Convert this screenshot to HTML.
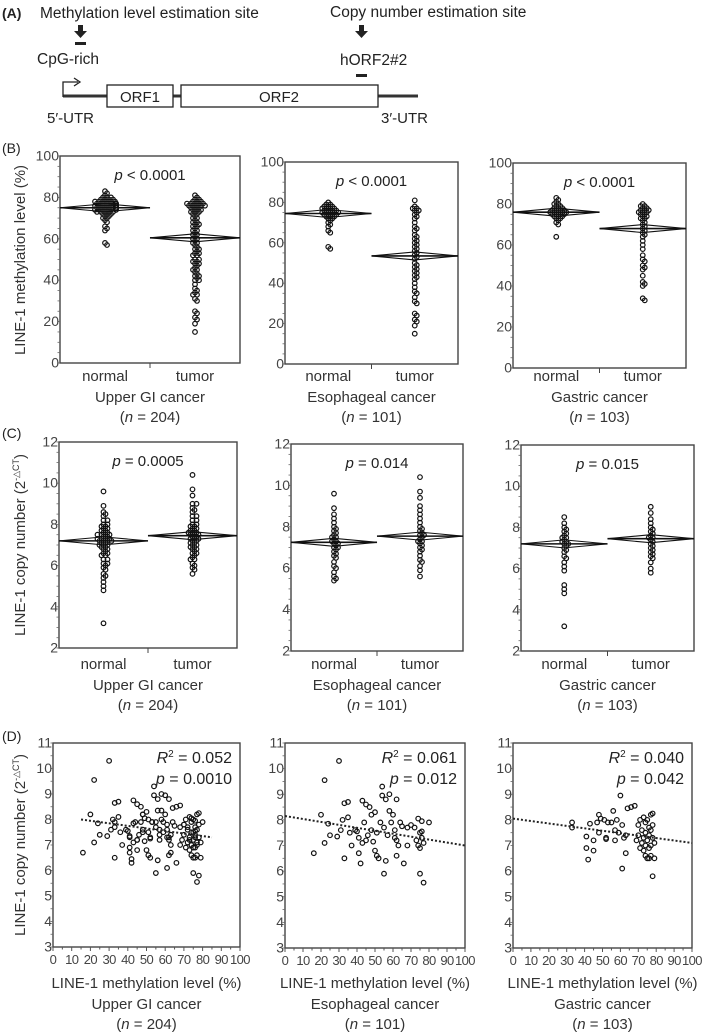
<!DOCTYPE html>
<html><head><meta charset="utf-8">
<style>
html,body{margin:0;padding:0;background:#fff;}
svg{display:block;font-family:"Liberation Sans",sans-serif;}
</style></head>
<body>
<svg id="fig" width="709" height="1036" viewBox="0 0 709 1036" xmlns="http://www.w3.org/2000/svg">
<g fill="#222" font-size="15">
  <text x="2" y="18" font-size="14" font-weight="bold">(A)</text>
  <text x="40" y="18" font-size="15.5">Methylation level estimation site</text>
  <text x="330" y="17" font-size="15.5">Copy number estimation site</text>
  <g><rect x="78" y="25" width="5" height="7"/><polygon points="74,31 87,31 80.5,38"/></g>
  <rect x="75" y="42" width="11" height="3"/>
  <text x="37" y="64" font-size="15.5">CpG-rich</text>
  <g><rect x="359" y="25" width="5" height="7"/><polygon points="355,31 368,31 361.5,38"/></g>
  <text x="340" y="65" font-size="15.5">hORF2#2</text>
  <rect x="356" y="74" width="11" height="3"/>
  <line x1="63" y1="96" x2="418" y2="96" stroke="#333" stroke-width="3"/>
  <path d="M63,97 V82 H78 M74,78 L80,82 L74,86" fill="none" stroke="#222" stroke-width="1.3"/>
  <rect x="107" y="85" width="66" height="22" fill="#fff" stroke="#222" stroke-width="1.3"/>
  <text x="140" y="102" text-anchor="middle">ORF1</text>
  <rect x="181" y="85" width="197" height="22" fill="#fff" stroke="#222" stroke-width="1.3"/>
  <text x="279" y="102" text-anchor="middle">ORF2</text>
  <text x="47" y="123">5′-UTR</text>
  <text x="381" y="123">3′-UTR</text>
</g>
<text x="2" y="153" font-size="14" fill="#222">(B)</text>
<text x="2" y="438" font-size="14" fill="#222">(C)</text>
<text x="2" y="741" font-size="14" fill="#222">(D)</text>
<text transform="translate(25,260) rotate(-90)" text-anchor="middle" font-size="15" fill="#333">LINE-1 methylation level (%)</text>
<text transform="translate(25,545) rotate(-90)" text-anchor="middle" font-size="15" fill="#333">LINE-1 copy number (2<tspan font-size="9" dy="-6">-△CT</tspan><tspan dy="6">)</tspan></text>
<text transform="translate(25,845) rotate(-90)" text-anchor="middle" font-size="15" fill="#333">LINE-1 copy number (2<tspan font-size="9" dy="-6">-△CT</tspan><tspan dy="6">)</tspan></text>
</svg>
<script>
// ---------- DATA ----------
var groupLabels = ["normal", "tumor"];
var cancerNames = ["Upper GI cancer", "Esophageal cancer", "Gastric cancer"];
var sampleSizes = ["204", "101", "103"];
// Panel B: methylation level (%)
var methEsoNormal = [80,79,79,78,78,78,77,77,77,77,76,76,76,76,75,75,75,75,75,74,74,74,74,73,73,73,72,72,71,70,69,68,66,65,58,57];
var methEsoTumor = [81,78,77,77,76,76,75,74,73,72,70,68,67,66,64,63,62,61,60,59,58,57,56,55,54,53,52,50,49,48,47,46,45,44,43,42,40,38,36,35,33,31,30,25,24,22,21,19,15];
var methGasNormal = [83,82,81,80,80,79,79,78,78,78,77,77,77,77,76,76,76,76,76,75,75,75,75,74,74,74,73,73,72,71,70,64];
var methGasTumor = [80,79,79,78,78,77,77,77,76,76,76,75,75,74,74,73,73,72,71,70,69,68,67,66,65,64,62,60,58,55,53,52,50,49,48,45,42,41,40,34,33];
var methMeans = [[75, 60.5], [74.5, 53.5], [76, 68]];
var methPvalues = ["< 0.0001", "< 0.0001", "< 0.0001"];
// Panel C: copy number
var copyEsoNormal = [9.6,8.9,8.6,8.4,8.2,8.0,7.9,7.8,7.7,7.6,7.5,7.5,7.4,7.3,7.3,7.2,7.2,7.1,7.0,7.0,6.9,6.8,6.7,6.6,6.5,6.3,6.1,6.0,5.8,5.6,5.5,5.4];
var copyEsoTumor = [10.4,9.7,9.4,9.0,8.8,8.6,8.4,8.2,8.0,7.9,7.8,7.7,7.6,7.6,7.5,7.4,7.3,7.3,7.2,7.1,7.0,6.9,6.8,6.6,6.4,6.3,6.1,5.9,5.6];
var copyGasNormal = [8.5,8.2,8.0,7.9,7.8,7.7,7.6,7.5,7.5,7.4,7.3,7.3,7.2,7.2,7.1,7.0,6.9,6.8,6.6,6.5,6.3,6.1,5.9,5.2,5.0,4.8,3.2];
var copyGasTumor = [9.0,8.7,8.4,8.2,8.0,7.9,7.8,7.7,7.6,7.5,7.5,7.4,7.3,7.2,7.1,7.0,6.9,6.8,6.7,6.6,6.5,6.3,6.0,5.8];
var copyMeans = [[7.2, 7.45], [7.25, 7.55], [7.2, 7.45]];
var copyPvalues = ["0.0005", "0.014", "0.015"];
// Panel D: methylation (x) vs copy number (y)
var scatEsoX = [16,20,22,22,24,25,30,29,31,32,33,33,35,35,36,37,39,40,41,41,42,43,43,44,45,45,46,47,48,48,49,50,50,51,51,52,53,54,54,55,55,56,56,57,58,58,59,60,61,61,62,62,62,63,64,65,66,68,68,70,72,73,74,74,75,75,75,76,76,76,77,77,80];
var scatEsoY = [6.7,8.2,9.55,7.1,7.85,7.4,10.3,7.35,7.6,8.0,6.5,8.65,8.7,8.1,7.5,7.0,7.6,7.55,7.3,6.7,6.3,8.75,7.1,7.9,7.2,8.6,7.4,8.5,8.2,7.6,7.15,8.3,6.8,6.6,7.5,6.5,7.9,9.3,8.95,7.7,5.9,8.8,6.4,7.4,8.35,9.0,7.9,8.2,7.6,7.3,8.8,7.2,6.6,7.0,7.9,7.75,6.3,7.7,7.0,7.8,7.7,7.2,8.05,7.0,7.5,6.9,5.9,7.3,7.95,7.55,5.55,7.1,7.9];
var scatGasX = [33,33,41,41,42,43,45,45,47,48,48,49,51,52,52,53,55,56,57,57,58,59,60,61,61,62,63,63,64,66,68,69,70,70,71,71,72,72,73,73,73,74,74,74,74,75,75,75,76,76,76,76,77,77,77,77,78,78,78,79,79,78];
var scatGasY = [7.9,7.7,7.35,6.9,6.45,7.85,6.8,7.2,7.9,8.2,7.5,8.05,8.0,7.3,7.25,7.9,7.9,8.35,7.2,7.6,8.0,7.5,8.95,7.8,6.1,7.3,6.7,7.4,8.45,8.5,8.55,7.2,7.8,7.4,6.9,8.0,7.6,7.1,8.1,7.3,6.8,7.9,7.5,7.0,6.6,8.0,7.2,6.5,7.7,7.4,6.9,6.5,8.2,7.6,7.0,6.6,8.25,7.3,5.8,6.5,7.1,7.8];
var trendUgi = [15, 8.0, 85, 7.3];
var trendEso = [0, 8.15, 100, 7.0];
var trendGas = [0, 8.05, 100, 7.1];
var r2Values = ["0.052", "0.061", "0.040"];
var corrPvalues = ["0.0010", "0.012", "0.042"];
var methTicks = [0, 20, 40, 60, 80, 100];
var copyTicks = [2, 4, 6, 8, 10, 12];
var scatYTicks = [3, 4, 5, 6, 7, 8, 9, 10, 11];
var scatXTicks = [0, 10, 20, 30, 40, 50, 60, 70, 80, 90, 100];

// ---------- DRAWING ----------
var NS = "http://www.w3.org/2000/svg";
var svg = document.getElementById("fig");
function mk(tag, attrs, parent) {
  var e = document.createElementNS(NS, tag);
  for (var k in attrs) e.setAttribute(k, attrs[k]);
  (parent || svg).appendChild(e);
  return e;
}
function scale(d0, d1, r0, r1) { return function (v) { return r0 + (v - d0) / (d1 - d0) * (r1 - r0); }; }

function axesBox(g, b, yMin, yMax, ticks, minorStep, name) {
  var y = scale(yMin, yMax, b.y1, b.y0);
  var rect = mk("rect", {x: b.x0, y: b.y0, width: b.x1 - b.x0, height: b.y1 - b.y0, fill: "none", stroke: "#444", "stroke-width": 1.4}, g);
  
  
  for (var v = yMin; v <= yMax + 1e-9; v += minorStep) {
    var mt = mk("line", {x1: b.x0 - 2.5, x2: b.x0, y1: y(v), y2: y(v), stroke: "#666", "stroke-width": 0.8}, g);
    
    
  }
  ticks.forEach(function (t) {
    var tl = mk("text", {x: b.x0 - 1, y: y(t) + 4.5, "text-anchor": "end", "font-size": 14, fill: "#444"}, g);
    tl.textContent = t;
    
    
  });
  return y;
}

function swarm(vals, y, cx, r, maxHalf) {
  var placed = [];
  var sorted = vals.slice().sort(function (a, b) { return b - a; });
  sorted.forEach(function (v) {
    var py = y(v), best = 0;
    for (var i = 0; i < 40; i++) {
      var off = (i % 2 ? 1 : -1) * Math.ceil(i / 2) * r * 0.8;
      if (Math.abs(off) > maxHalf) { off = (i % 2 ? 1 : -1) * maxHalf; best = off; break; }
      var ok = placed.every(function (p) { var dx = p[0] - (cx + off), dy = p[1] - py; return dx * dx + dy * dy > (r * 1.1) * (r * 1.1); });
      if (ok) { best = off; break; }
    }
    placed.push([cx + best, py]);
  });
  return placed;
}

function dotPanel(b, groups, means, yMin, yMax, ticks, minor, pText, pOp, cancer, n, name, ly) {
  var g = mk("g", {}, svg);
  
  
  var y = axesBox(g, b, yMin, yMax, ticks, minor, name);
  var mid = (b.x0 + b.x1) / 2;
  var ct = mk("line", {x1: mid, x2: mid, y1: b.y1, y2: b.y1 + 5, stroke: "#444", "stroke-width": 1}, g);
  
  
  [0, 1].forEach(function (gi) {
    var gx0 = gi ? mid : b.x0, gx1 = gi ? b.x1 : mid, gc = (gx0 + gx1) / 2;
    var pts = swarm(groups[gi], y, gc, 2.5, 11);
    pts.forEach(function (p) {
      var c = mk("circle", {cx: p[0], cy: p[1], r: 2.3, fill: "none", stroke: "#111", "stroke-width": 1.2}, g);
      
      
    });
    var m = y(means[gi]);
    var dm = mk("polygon", {points: gx0 + "," + m + " " + gc + "," + (m - 4) + " " + gx1 + "," + m + " " + gc + "," + (m + 4), fill: "none", stroke: "#111", "stroke-width": 1.1}, g);
    
    
    var ml = mk("line", {x1: gx0, x2: gx1, y1: m, y2: m, stroke: "#111", "stroke-width": 1.6}, g);
    
    
    var gl = mk("text", {x: gc, y: ly, "text-anchor": "middle", "font-size": 15, fill: "#333"}, g);
    gl.textContent = groupLabels[gi];
    
    
  });
  var pt = mk("text", {x: mid, y: b.y0 + 24, "text-anchor": "middle", "font-size": 15, fill: "#222"}, g);
  pt.innerHTML = '<tspan font-style="italic">p</tspan> ' + pOp + ' ' + pText;
  
  
  var cl = mk("text", {x: mid, y: ly + 21, "text-anchor": "middle", "font-size": 15, fill: "#333"}, g);
  cl.textContent = cancer;
  
  
  var nl = mk("text", {x: mid, y: ly + 41, "text-anchor": "middle", "font-size": 15, fill: "#333"}, g);
  nl.innerHTML = '(<tspan font-style="italic">n</tspan> = ' + n + ')';
  
  
}

var methGroups = [[methEsoNormal.concat(methGasNormal), methEsoTumor.concat(methGasTumor)], [methEsoNormal, methEsoTumor], [methGasNormal, methGasTumor]];
var copyGroups = [[copyEsoNormal.concat(copyGasNormal), copyEsoTumor.concat(copyGasTumor)], [copyEsoNormal, copyEsoTumor], [copyGasNormal, copyGasTumor]];
var boxesB = [{x0: 60, x1: 240, y0: 156, y1: 363}, {x0: 285, x1: 458, y0: 162, y1: 364}, {x0: 513, x1: 686, y0: 163, y1: 368}];
var boxesC = [{x0: 59, x1: 237, y0: 442, y1: 648}, {x0: 291, x1: 463, y0: 444, y1: 651}, {x0: 521, x1: 694, y0: 445, y1: 651}];
var boxesD = [{x0: 53, x1: 240, y0: 743, y1: 947}, {x0: 285, x1: 465, y0: 743, y1: 948}, {x0: 513, x1: 692, y0: 743, y1: 948}];
var keys = ["upper-gi", "esophageal", "gastric"];
for (var i = 0; i < 3; i++) {
  dotPanel(boxesB[i], methGroups[i], methMeans[i], 0, 100, methTicks, 5, methPvalues[i], "", cancerNames[i], sampleSizes[i], "methylation-" + keys[i] + "-panel", 381);
  dotPanel(boxesC[i], copyGroups[i], copyMeans[i], 2, 12, copyTicks, 0.5, copyPvalues[i], "=", cancerNames[i], sampleSizes[i], "copy-number-" + keys[i] + "-panel", 669);
}

var scatX = [scatEsoX.concat(scatGasX), scatEsoX, scatGasX];
var scatY = [scatEsoY.concat(scatGasY), scatEsoY, scatGasY];
var trends = [trendUgi, trendEso, trendGas];
for (var i = 0; i < 3; i++) {
  var b = boxesD[i], name = "correlation-" + keys[i] + "-panel";
  var g = mk("g", {}, svg);
  
  
  var y = axesBox(g, b, 3, 11, scatYTicks, 0.5, name);
  var x = scale(0, 100, b.x0, b.x1);
  for (var v = 0; v <= 100; v += 5) {
    var xt = mk("line", {x1: x(v), x2: x(v), y1: b.y1, y2: b.y1 + (v % 10 ? 2.5 : 4), stroke: "#555", "stroke-width": 1}, g);
    
    
  }
  scatXTicks.forEach(function (t) {
    var tl = mk("text", {x: x(t), y: b.y1 + 17, "text-anchor": "middle", "font-size": 13, fill: "#444", "letter-spacing": "-0.6"}, g);
    tl.textContent = t;
    
    
  });
  for (var j = 0; j < scatX[i].length; j++) {
    var c = mk("circle", {cx: x(scatX[i][j]), cy: y(scatY[i][j]), r: 2.3, fill: "none", stroke: "#111", "stroke-width": 1.2}, g);
    
    
  }
  var t = trends[i];
  var tl2 = mk("line", {x1: x(t[0]), y1: y(t[1]), x2: x(t[2]), y2: y(t[3]), stroke: "#222", "stroke-width": 2, "stroke-dasharray": "2,2"}, g);
  
  
  var r2 = mk("text", {x: b.x1 - 8, y: b.y0 + 20, "text-anchor": "end", "font-size": 16, fill: "#222"}, g);
  r2.innerHTML = '<tspan font-style="italic">R</tspan><tspan font-size="10" dy="-6">2</tspan><tspan dy="6"> = ' + r2Values[i] + '</tspan>';
  
  
  var pp = mk("text", {x: b.x1 - 8, y: b.y0 + 41, "text-anchor": "end", "font-size": 16, fill: "#222"}, g);
  pp.innerHTML = '<tspan font-style="italic">p</tspan> = ' + corrPvalues[i];
  
  
  var mid = (b.x0 + b.x1) / 2;
  var xt2 = mk("text", {x: mid, y: 988, "text-anchor": "middle", "font-size": 15, fill: "#333"}, g);
  xt2.textContent = "LINE-1 methylation level (%)";
  
  
  var cl = mk("text", {x: mid, y: 1009, "text-anchor": "middle", "font-size": 15, fill: "#333"}, g);
  cl.textContent = cancerNames[i];
  
  
  var nl = mk("text", {x: mid, y: 1029, "text-anchor": "middle", "font-size": 15, fill: "#333"}, g);
  nl.innerHTML = '(<tspan font-style="italic">n</tspan> = ' + sampleSizes[i] + ')';
  
  
}
</script>
</body></html>
